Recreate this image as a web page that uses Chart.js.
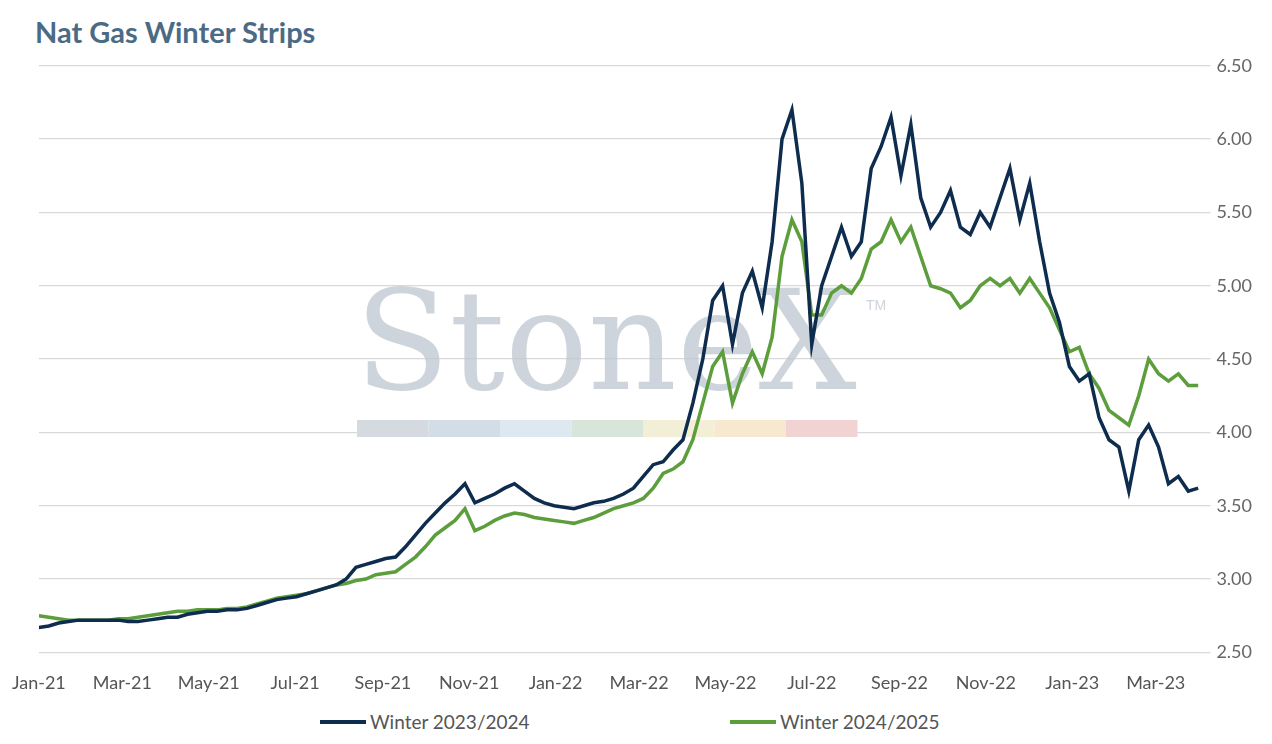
<!DOCTYPE html>
<html>
<head>
<meta charset="utf-8">
<script src="https://cdn.jsdelivr.net/npm/chart.js@4.4.1/dist/chart.umd.min.js"></script>
<style>
  body { margin: 0; background: #fff; font-family: Lato, "Open Sans", sans-serif; }
  #titulo { position: absolute; left: 35px; top: 14px; font-size: 29px; font-weight: bold; color: #4b6b85; }
  #wrap { position: absolute; left: 0; top: 49px; width: 1272px; height: 657px; }
  .leg { position: absolute; top: 710px; font-size: 19px; color: #555; display: flex; align-items: center; }
  .leg span { display: inline-block; width: 46px; height: 4px; margin-right: 4px; }
</style>
</head>
<body>
<div id="titulo">Nat Gas Winter Strips</div>
<div id="wrap"><canvas id="grafico"></canvas></div>
<div class="leg" style="left:320px"><span style="background:#0e2c4e"></span>Winter 2023/2024</div>
<div class="leg" style="left:730px"><span style="background:#5c9e3c"></span>Winter 2024/2025</div>
<script>
// dados semanais a partir de 1 jan 2021 (semana 0)
const semanas = [];
for (let i = 0; i <= 117; i++) semanas.push(i);

const inverno2324 = [2.67,2.68,2.70,2.71,2.72,2.72,2.72,2.72,2.72,2.71,2.71,2.72,2.73,2.74,2.74,2.76,2.77,2.78,2.78,2.79,2.79,2.80,2.82,2.84,2.86,2.87,2.88,2.90,2.92,2.94,2.96,3.00,3.08,3.10,3.12,3.14,3.15,3.22,3.30,3.38,3.45,3.52,3.58,3.65,3.52,3.55,3.58,3.62,3.65,3.60,3.55,3.52,3.50,3.49,3.48,3.50,3.52,3.53,3.55,3.58,3.62,3.70,3.78,3.80,3.88,3.95,4.20,4.50,4.90,5.00,4.60,4.95,5.10,4.85,5.30,6.00,6.20,5.70,4.60,5.00,5.20,5.40,5.20,5.30,5.80,5.95,6.15,5.75,6.10,5.60,5.40,5.50,5.65,5.40,5.35,5.50,5.40,5.60,5.80,5.45,5.70,5.30,4.95,4.75,4.45,4.35,4.40,4.10,3.95,3.90,3.60,3.95,4.05,3.90,3.65,3.70,3.60,3.62];
const inverno2425 = [2.75,2.74,2.73,2.72,2.72,2.72,2.72,2.72,2.73,2.73,2.74,2.75,2.76,2.77,2.78,2.78,2.79,2.79,2.79,2.80,2.80,2.81,2.83,2.85,2.87,2.88,2.89,2.90,2.92,2.94,2.96,2.97,2.99,3.00,3.03,3.04,3.05,3.10,3.15,3.22,3.30,3.35,3.40,3.48,3.33,3.36,3.40,3.43,3.45,3.44,3.42,3.41,3.40,3.39,3.38,3.40,3.42,3.45,3.48,3.50,3.52,3.55,3.62,3.72,3.75,3.80,3.95,4.20,4.45,4.55,4.20,4.40,4.55,4.40,4.65,5.20,5.45,5.30,4.80,4.80,4.95,5.00,4.95,5.05,5.25,5.30,5.45,5.30,5.40,5.20,5.00,4.98,4.95,4.85,4.90,5.00,5.05,5.00,5.05,4.95,5.05,4.95,4.85,4.70,4.55,4.58,4.40,4.30,4.15,4.10,4.05,4.25,4.50,4.40,4.35,4.40,4.32,4.32];

const rotulosMeses = ['Jan-21','Mar-21','May-21','Jul-21','Sep-21','Nov-21','Jan-22','Mar-22','May-22','Jul-22','Sep-22','Nov-22','Jan-23','Mar-23'];
const diasMeses = [0,59,120,181,243,304,365,424,485,546,608,669,730,789];

const pontos = (serie) => serie.map((v, i) => ({ x: semanas[i] * 7, y: v }));

// marca d'água StoneX
const marcaDagua = {
  id: 'marcaDagua',
  beforeDatasetsDraw(chart) {
    const ctx = chart.ctx;
    ctx.save();
    ctx.fillStyle = 'rgba(190,198,208,0.75)';
    ctx.font = '138px "DejaVu Serif", "Liberation Serif", serif';
    ctx.textBaseline = 'alphabetic';
    ctx.fillText('StoneX', 355, 340);
    ctx.font = '14px sans-serif';
    ctx.fillText('TM', 866, 261);
    const cores = ['#d5dae0','#d3dde8','#dde8f1','#d7e5da','#f3efd6','#f7e8d0','#f2d3d3'];
    cores.forEach((c, i) => { ctx.fillStyle = c; ctx.fillRect(357 + i * 71.5, 371, 71.5, 17); });
    ctx.restore();
  }
};

new Chart(document.getElementById('grafico'), {
  type: 'line',
  data: {
    datasets: [
      { label: 'Winter 2023/2024', data: pontos(inverno2324), borderColor: '#0e2c4e', borderWidth: 3.5, pointRadius: 0, tension: 0 },
      { label: 'Winter 2024/2025', data: pontos(inverno2425), borderColor: '#5c9e3c', borderWidth: 3.5, pointRadius: 0, tension: 0 }
    ]
  },
  options: {
    responsive: true,
    maintainAspectRatio: false,
    animation: false,
    layout: { padding: { left: 23, right: 14, top: 6, bottom: 0 } },
    plugins: { legend: { display: false }, tooltip: { enabled: false } },
    scales: {
      x: {
        type: 'linear', min: 0, max: 822,
        grid: { display: false },
        border: { display: false },
        afterBuildTicks: (ax) => { ax.ticks = diasMeses.map(d => ({ value: d })); },
        ticks: {
          autoSkip: false, maxRotation: 0, color: '#555', padding: 12,
          font: { family: 'Lato', size: 18 },
          callback: (v) => rotulosMeses[diasMeses.indexOf(v)]
        }
      },
      y: {
        position: 'right', min: 2.5, max: 6.5,
        grid: { color: '#d9d9d9', lineWidth: 1.3 },
        border: { display: false },
        ticks: { stepSize: 0.5, color: '#666', padding: 6, font: { family: 'Lato', size: 18 }, callback: (v) => v.toFixed(2) }
      }
    }
  },
  plugins: [marcaDagua]
});
</script>
</body>
</html>
